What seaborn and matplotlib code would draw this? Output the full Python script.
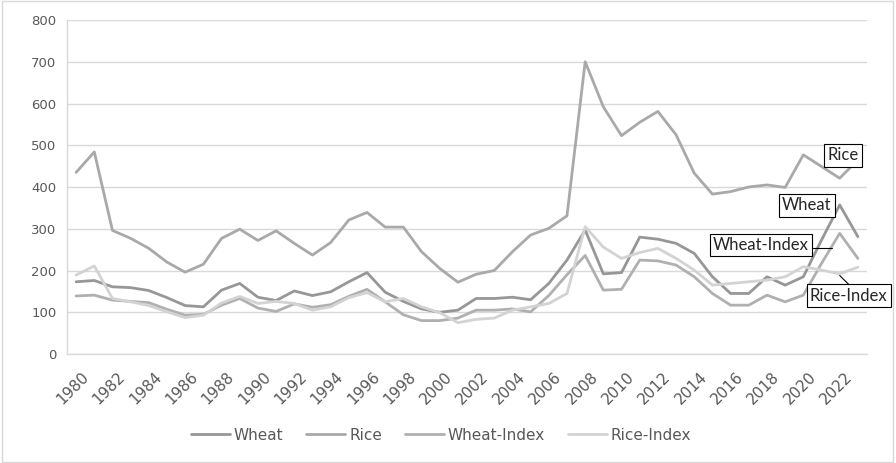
import matplotlib
matplotlib.use("Agg")
import matplotlib.pyplot as plt
import matplotlib.transforms as mtransforms
from matplotlib.patches import Rectangle
from matplotlib.ticker import MultipleLocator, FixedLocator
import numpy as np
import pandas as pd
import seaborn as sns

years = list(range(1980, 2024))
wheat = [173, 176, 161, 159, 152, 135, 116, 113, 153, 169,
         136, 128, 151, 140, 149, 173, 195, 148, 126, 108,
         100, 105, 133, 133, 136, 130, 169, 225, 297, 192,
         195, 280, 275, 265, 241, 185, 145, 145, 185, 165,
         185, 273, 357, 281]
rice = [435, 484, 296, 277, 253, 220, 196, 215, 277, 299,
        272, 295, 265, 237, 267, 321, 339, 304, 304, 245,
        205, 172, 191, 200, 245, 285, 301, 331, 700, 592,
        523, 555, 581, 525, 433, 383, 389, 400, 405, 399,
        477, 449, 421, 465]
wheat_index = [139, 141, 129, 126, 123, 107, 93, 95, 117, 133,
               110, 102, 120, 112, 118, 138, 155, 125, 94, 80,
               80, 86, 105, 105, 108, 101, 140, 190, 236, 153,
               155, 225, 223, 213, 185, 145, 117, 117, 141, 125,
               141, 217, 289, 229]
rice_index = [189, 211, 133, 125, 116, 101, 87, 93, 122, 138,
              121, 126, 121, 105, 113, 135, 147, 125, 133, 113,
              99, 75, 83, 86, 105, 113, 121, 145, 305, 256,
              229, 243, 253, 229, 201, 165, 169, 173, 177, 185,
              209, 201, 192, 208]
series_names = ["Wheat", "Rice", "Wheat-Index", "Rice-Index"]

df = pd.DataFrame({"Year": years, "Wheat": wheat, "Rice": rice,
                   "Wheat-Index": wheat_index, "Rice-Index": rice_index})
long = df.melt(id_vars="Year", value_vars=series_names,
               var_name="Series", value_name="Value")

sns.set_theme(style="white")
plt.rcParams["font.family"] = ["DejaVu Sans"]

palette = {"Wheat": "#979797", "Rice": "#a9a9a9",
           "Wheat-Index": "#b0b0b0", "Rice-Index": "#d3d3d3"}

fig = plt.figure(figsize=(8.96, 4.63), dpi=100)
ax = fig.add_axes([0.0748, 0.2354, 0.8928, 0.7214])

sns.lineplot(data=long, x="Year", y="Value", hue="Series",
             hue_order=series_names, palette=palette, linewidth=2.0,
             ax=ax, legend=True)

grid_c = "#d9d9d9"
text_c = "#595959"
ax.set_xlim(1979.5, 2023.5)
ax.set_ylim(0, 800)
ax.yaxis.set_major_locator(MultipleLocator(100))
ax.grid(axis="y", color=grid_c, linewidth=1.0)
ax.set_axisbelow(True)
for s in ["top", "right"]:
    ax.spines[s].set_visible(False)
for s in ["left", "bottom"]:
    ax.spines[s].set_color(grid_c)
    ax.spines[s].set_linewidth(1.0)

ax.xaxis.set_major_locator(FixedLocator(years[::2]))
ax.xaxis.set_minor_locator(FixedLocator(np.arange(1979.5, 2024.0, 1.0)))
ax.tick_params(axis="x", which="major", length=0, pad=11)
ax.tick_params(axis="x", which="minor", length=5, color=grid_c, width=1.0)
ax.tick_params(axis="y", length=5, color=grid_c, width=1.0, pad=2.5)
ax.set_xticklabels([str(y) for y in years[::2]], rotation=45,
                   ha="right", va="top", rotation_mode="anchor",
                   fontsize=11, color=text_c)
shift = mtransforms.ScaledTranslation(5 / 100, 0, fig.dpi_scale_trans)
for lbl in ax.get_xticklabels():
    lbl.set_transform(lbl.get_transform() + shift)
for lbl in ax.get_yticklabels():
    lbl.set_fontsize(9.5)
    lbl.set_color(text_c)
ax.set_xlabel("")
ax.set_ylabel("")

# Series name callouts at the right end of the lines
box = dict(boxstyle="square,pad=0.2", fc="white", ec="black", lw=0.8)
lab_font = ["Lato", "DejaVu Sans"]
ax.text(2022.2, 476, "Rice", ha="center", va="center", fontsize=12,
        family=lab_font, bbox=box, zorder=5)
ax.text(2020.2, 356, "Wheat", ha="center", va="center", fontsize=12,
        family=lab_font, bbox=box, zorder=5)
ax.text(2017.67, 261, "Wheat-Index", ha="center", va="center", fontsize=12,
        family=lab_font, bbox=box, zorder=5, clip_on=False)
ax.text(2022.5, 140, "Rice-Index", ha="center", va="center", fontsize=12,
        family=lab_font, bbox=box, zorder=5, clip_on=False)
ax.plot([2020.55, 2021.6], [255, 255], color="black", lw=0.8, zorder=4)
ax.plot([2022.0, 2022.65], [188, 160], color="black", lw=0.8, zorder=4)

leg = ax.legend(loc="center", bbox_to_anchor=(0.4675, -0.243), ncol=4,
                frameon=False, fontsize=11, handlelength=2.55,
                columnspacing=1.5, handletextpad=0.25)
for t in leg.get_texts():
    t.set_color(text_c)
for h in leg.get_lines():
    h.set_linewidth(2.0)

fig.patches.append(Rectangle((0.002, 0.003), 0.995, 0.994,
                             transform=fig.transFigure, fill=False,
                             ec="#d9d9d9", lw=1.0))

fig.savefig("out.png", dpi=100)
